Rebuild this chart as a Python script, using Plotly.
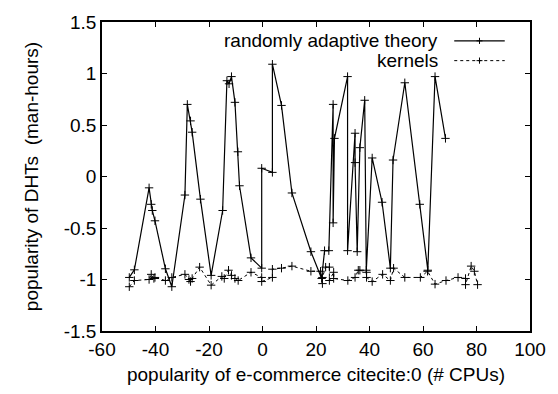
import plotly.graph_objects as go

# randomly adaptive theory (solid)
theory_x = [-49.8, -47.9, -42.4, -41.6, -41.2, -40.2, -36.3, -33.9, -29.0, -28.1,
            -26.9, -26.3, -23.2, -19.2, -14.9, -13.3, -12.5, -11.6, -10.3, -9.2,
            -8.6, -4.3, -0.3, -0.3, 3.7, 3.7, 7.1, 11.0, 18.1, 22.1,
            23.2, 24.8, 26.4, 26.4, 26.9, 31.8, 31.8, 34.6, 34.6, 35.4,
            36.4, 38.2, 38.8, 41.0, 44.7, 47.8, 48.8, 53.2, 58.8, 61.8,
            64.5, 68.4]
theory_y = [-0.98, -0.906, -0.11, -0.27, -0.33, -0.43, -0.896, -1.07, -0.18, 0.70,
            0.54, 0.43, -0.22, -0.96, -0.33, 0.93, 0.90, 0.97, 0.72, 0.24,
            -0.09, -0.79, -0.89, 0.08, 0.04, 1.09, 0.69, -0.16, -0.73, -0.99,
            -0.72, -0.72, 0.70, -0.45, 0.37, 0.97, -0.72, 0.42, 0.135, -0.73,
            0.28, 0.74, -0.91, 0.18, -0.25, -0.89, 0.16, 0.91, -0.27, -0.91,
            0.97, 0.37]

# kernels (dotted)
kernels_x = [-49.8, -47.9, -42.4, -41.6, -40.6, -40.2, -36.3, -33.9, -29.0, -27.5,
             -26.9, -26.3, -23.5, -19.2, -15.2, -14.3, -12.7, -11.6, -10.3, -9.1,
             -4.3, -0.3, -0.3, 3.7, 3.7, 7.1, 11.0, 18.1, 21.7, 22.4,
             22.4, 23.6, 25.0, 25.0, 26.6, 26.6, 31.9, 34.6, 35.8, 36.4,
             38.9, 38.9, 41.0, 44.9, 47.8, 49.0, 53.2, 59.0, 61.7, 64.5,
             68.6, 73.1, 75.9, 75.9, 78.0, 79.2, 80.4]
kernels_y = [-1.07, -1.01, -1.00, -0.95, -0.99, -0.98, -1.01, -0.98, -0.95, -1.00,
             -1.02, -0.99, -0.88, -1.055, -0.97, -0.99, -0.91, -0.96, -0.99, -1.01,
             -0.93, -0.98, -1.02, -0.98, -0.90, -0.89, -0.87, -0.92, -0.92, -1.04,
             -0.98, -0.88, -0.88, -1.01, -0.93, -0.99, -1.01, -0.98, -0.91, -0.91,
             -0.93, -0.98, -1.02, -0.95, -1.01, -0.89, -0.98, -0.98, -0.92, -1.045,
             -1.01, -0.98, -0.99, -1.05, -0.87, -0.92, -1.05]

x_ticks = [-60, -40, -20, 0, 20, 40, 60, 80, 100]
x_ticktext = ["-60", "-40", "-20", "0", "20", "40", "60", "80", "100"]
y_ticks = [-1.5, -1, -0.5, 0, 0.5, 1, 1.5]
y_ticktext = ["-1.5", "-1", "-0.5", "0", "0.5", "1", "1.5"]

series_names = ["randomly adaptive theory", "kernels"]

FONT = "Liberation Sans, Arial, sans-serif"
FS = 19

fig = go.Figure()
fig.add_trace(go.Scatter(
    x=theory_x, y=theory_y, mode="lines+markers", name=series_names[0],
    line=dict(color="black", width=1.2),
    marker=dict(symbol="cross-thin", size=6, line=dict(color="black", width=1)),
    showlegend=False, cliponaxis=False))
fig.add_trace(go.Scatter(
    x=kernels_x, y=kernels_y, mode="lines+markers", name=series_names[1],
    line=dict(color="black", width=1, dash="dot"),
    marker=dict(symbol="cross-thin", size=6, line=dict(color="black", width=1)),
    showlegend=False, cliponaxis=False))

axis_common = dict(showline=True, linecolor="black", linewidth=1.5, mirror="ticks",
                   ticks="inside", ticklen=5, tickcolor="black", tickwidth=1,
                   showgrid=False, zeroline=False,
                   tickfont=dict(family=FONT, size=FS, color="black"))

fig.update_xaxes(range=[-60, 100], tickvals=x_ticks, ticktext=x_ticktext,
                 title=dict(text="popularity of e-commerce citecite:0 (# CPUs)",
                            font=dict(family=FONT, size=FS, color="black"), standoff=9),
                 **axis_common)
fig.update_yaxes(range=[-1.5, 1.5], tickvals=y_ticks, ticktext=y_ticktext,
                 title=dict(text="popularity of DHTs\u00a0\u00a0(man-hours)",
                            font=dict(family=FONT, size=FS, color="black"), standoff=20),
                 **axis_common)

# gnuplot-style key: text right-aligned, sample to its right
rows = [(0.939, "solid"), (0.875, "dot")]
for (yp, dash), name in zip(rows, series_names):
    fig.add_annotation(x=0.79, y=yp, xref="paper", yref="paper", text=name,
                       showarrow=False, xanchor="right", yanchor="middle",
                       font=dict(family=FONT, size=FS, color="black"))
    fig.add_shape(type="line", xref="paper", yref="paper", x0=0.823, x1=0.941,
                  y0=yp, y1=yp, line=dict(color="black", width=1.2 if dash == "solid" else 1, dash=dash))
    fig.add_shape(type="line", xref="paper", yref="paper", x0=0.882 - 0.007, x1=0.882 + 0.007,
                  y0=yp, y1=yp, line=dict(color="black", width=1))
    fig.add_shape(type="line", xref="paper", yref="paper", x0=0.882, x1=0.882,
                  y0=yp - 0.01, y1=yp + 0.01, line=dict(color="black", width=1))

fig.update_layout(width=558, height=394, margin=dict(l=102, r=20, t=17, b=62),
                  paper_bgcolor="white", plot_bgcolor="white",
                  font=dict(family=FONT, size=FS, color="black"))

fig.write_html("out.html")
